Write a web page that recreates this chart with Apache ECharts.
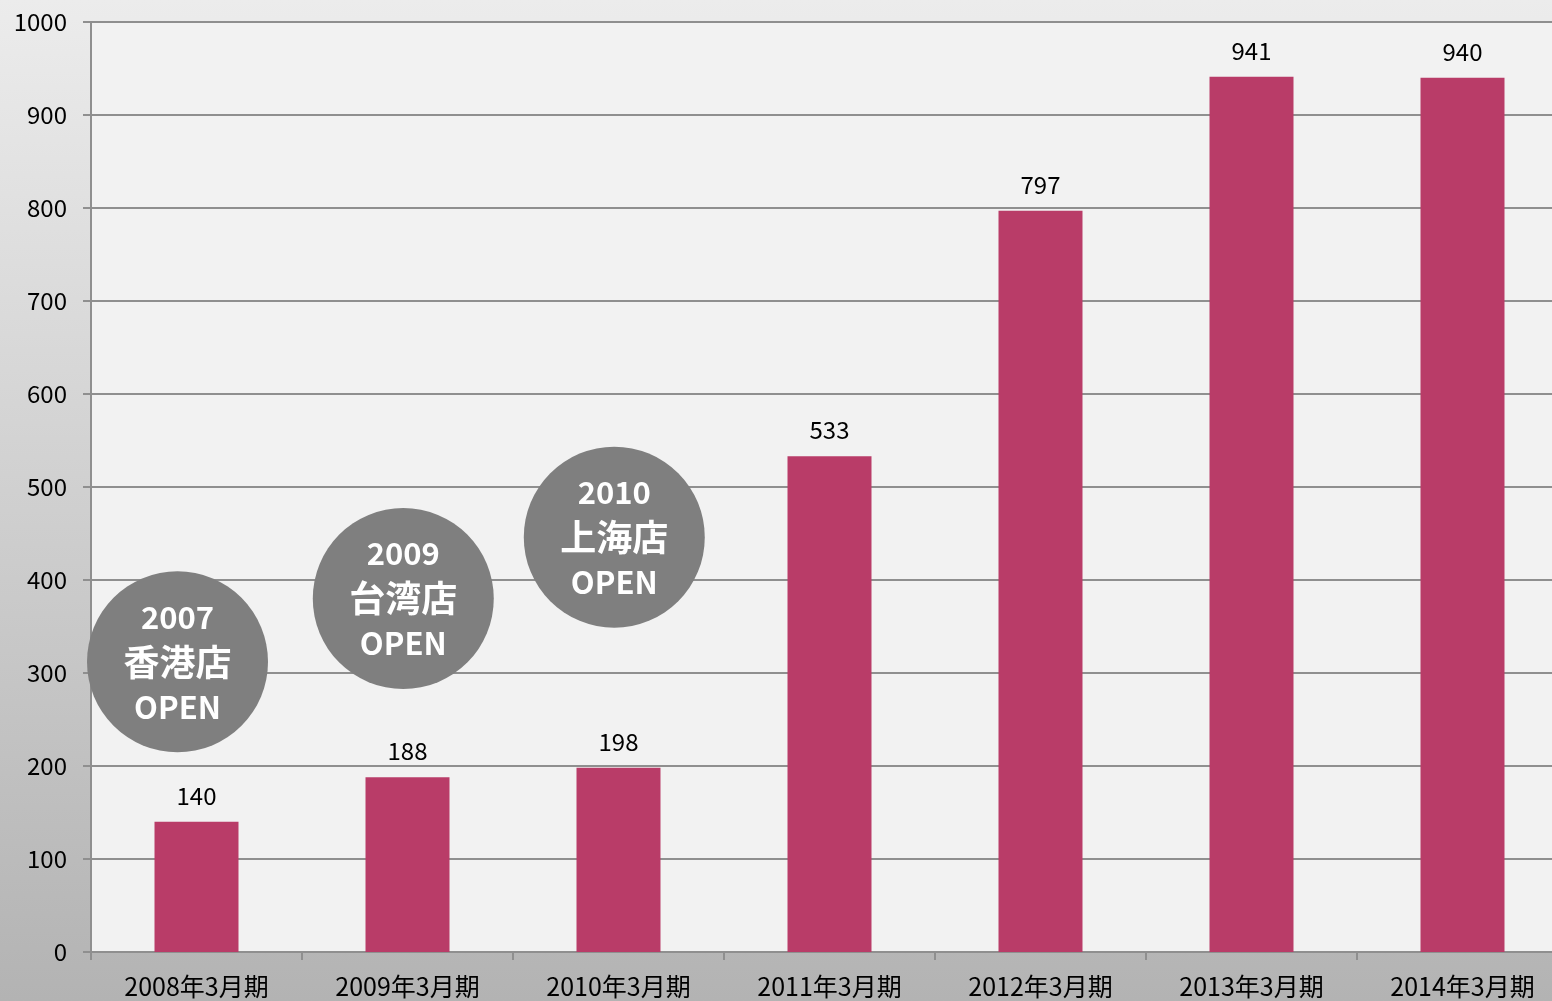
<!DOCTYPE html>
<html>
<head>
<meta charset="utf-8">
<style>
  html, body { margin: 0; padding: 0; }
  #chart { width: 1552px; height: 1001px; }
</style>
<script src="https://cdn.jsdelivr.net/npm/echarts@6/dist/echarts.min.js"></script>
</head>
<body>
<div id="chart"></div>
<script>
var categories = ['2008年3月期', '2009年3月期', '2010年3月期', '2011年3月期', '2012年3月期', '2013年3月期', '2014年3月期']
var sales = [140, 188, 198, 533, 797, 941, 940]
var yTicks = [0, 100, 200, 300, 400, 500, 600, 700, 800, 900, 1000]

// store opening bubbles: [x in category units, y in value units, year, store]
var openings = [
  [0.41, 312, '2007', '香港店'],
  [1.48, 380, '2009', '台湾店'],
  [2.48, 446, '2010', '上海店']
]

var font = '"Noto Sans CJK JP", "Noto Sans", sans-serif'
var chart = echarts.init(document.getElementById('chart'))

chart.setOption({
  backgroundColor: {
    type: 'linear', x: 0, y: 0, x2: 0, y2: 1,
    colorStops: [
      { offset: 0, color: '#ececec' },
      { offset: 1, color: '#b3b3b3' }
    ]
  },
  animation: false,
  grid: {
    left: 91, width: 1477, top: 22, bottom: 49,
    outerBoundsMode: 'none', containLabel: false,
    show: true, backgroundColor: '#f2f2f2', borderWidth: 0
  },
  xAxis: [
    {
      type: 'category',
      data: categories,
      axisLine: { lineStyle: { color: '#8f8f8f', width: 2 } },
      axisTick: { show: true, length: 8, lineStyle: { color: '#8f8f8f', width: 2 } },
      axisLabel: { color: '#000', fontSize: 25, fontFamily: font, margin: 22 }
    },
    {
      type: 'value', min: 0, max: 7, show: false
    }
  ],
  yAxis: {
    type: 'value',
    min: yTicks[0],
    max: yTicks[yTicks.length - 1],
    interval: 100,
    axisLine: { show: true, lineStyle: { color: '#8f8f8f', width: 2 } },
    axisTick: { show: true, length: 8, lineStyle: { color: '#8f8f8f', width: 2 } },
    axisLabel: {
      color: '#000', fontSize: 24, fontFamily: font, margin: 24,
      formatter: function (v) { return String(v) }
    },
    splitLine: { lineStyle: { color: '#8f8f8f', width: 2 } }
  },
  series: [
    {
      type: 'bar',
      data: sales,
      barWidth: 84,
      itemStyle: { color: '#b93c68' },
      label: {
        show: true, position: 'top', distance: 14,
        color: '#000', fontSize: 24, fontFamily: font
      }
    },
    {
      type: 'scatter',
      xAxisIndex: 1,
      data: openings.map(function (o) { return [o[0], o[1], o[2], o[3]] }),
      symbolSize: 181,
      itemStyle: { color: '#7f7f7f', opacity: 1 },
      z: 5,
      label: {
        show: true, position: 'inside',
        formatter: function (p) {
          return '{y|' + p.data[2] + '}\n{s|' + p.data[3] + '}\n{y|OPEN}'
        },
        rich: {
          y: { color: '#fff', fontSize: 31, fontWeight: 'bold', fontFamily: font, lineHeight: 45 },
          s: { color: '#fff', fontSize: 36, fontWeight: 'bold', fontFamily: font, lineHeight: 45 }
        }
      }
    }
  ]
})
</script>
</body>
</html>
